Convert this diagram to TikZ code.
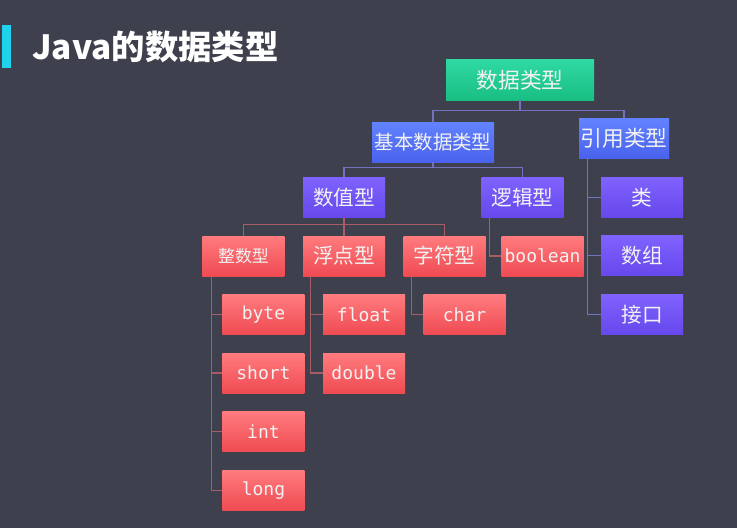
\documentclass[tikz,border=0pt]{standalone}
\usepackage{fontspec}
\setmainfont{Noto Sans CJK SC}
\setmonofont{DejaVu Sans Mono}
\usepackage{tikz}
\usetikzlibrary{positioning}

\definecolor{bgcol}{HTML}{3E414D}
\definecolor{barcol}{HTML}{1FD3EE}
\definecolor{greentop}{HTML}{2FD9A2}
\definecolor{greenbot}{HTML}{19BE83}
\definecolor{bluetop}{HTML}{6283FF}
\definecolor{bluebot}{HTML}{4A62EC}
\definecolor{purpletop}{HTML}{8062FF}
\definecolor{purplebot}{HTML}{6648EC}
\definecolor{redtop}{HTML}{FF7B7E}
\definecolor{redbot}{HTML}{EF4B52}
\definecolor{bluelinecol}{HTML}{7272C0}
\definecolor{redlinecol}{HTML}{A65D66}

\begin{document}
\begin{tikzpicture}[
  x=0.75pt, y=-0.75pt,
  node distance=13.5pt and 13.5pt,
  box/.style={rectangle, align=center, minimum width=61.5pt, minimum height=30pt, inner sep=0pt, text=white!95!black, font=\fontsize{15.5}{18}\selectfont},
  greenbox/.style={box, top color=greentop, bottom color=greenbot},
  bluebox/.style={box, top color=bluetop, bottom color=bluebot},
  purplebox/.style={box, top color=purpletop, bottom color=purplebot},
  redbox/.style={box, top color=redtop, bottom color=redbot},
  codebox/.style={redbox, font=\ttfamily\fontsize{13.5}{16}\selectfont},
  bluelink/.style={draw=bluelinecol, line width=1pt},
  redlink/.style={draw=redlinecol, line width=1pt}
]
\fill[bgcol] (0,0) rectangle (737,528);
\fill[barcol] (2,25) rectangle (11,68);
\node[anchor=west, inner sep=0pt, text=white, font=\bfseries\fontsize{25}{30}\selectfont] (title) at (32,47) {Java的数据类型};

% top levels
\node[greenbox, minimum width=111pt, font=\fontsize{16.3}{19}\selectfont] (root) at (520,80) {数据类型};
\node[bluebox, minimum width=91.5pt, font=\fontsize{14.6}{18}\selectfont] (basic) at (433,142) {基本数据类型};
\node[bluebox, minimum width=67.5pt, font=\fontsize{16.3}{19}\selectfont] (ref) at (624,138) {引用类型};
\node[purplebox] (num) at (344,197.5) {数值型};
\node[purplebox] (logic) at (522.5,197.5) {逻辑型};

% groups
\node[redbox, below=of num] (fu) {浮点型};
\node[redbox, left=of fu, font=\fontsize{12.7}{15}\selectfont] (zheng) {整数型};
\node[redbox, right=of fu] (zi) {字符型};
\node[codebox, below=of logic, xshift=15pt] (bool) {boolean};

% leaves
\node[codebox, below=of zheng, xshift=15pt] (byte) {byte};
\node[codebox, below=of byte] (short) {short};
\node[codebox, below=of short] (int) {int};
\node[codebox, below=of int] (long) {long};
\node[codebox, below=of fu, xshift=15pt] (float) {float};
\node[codebox, below=of float] (double) {double};
\node[codebox, below=of zi, xshift=15pt] (char) {char};
\node[purplebox, below=14pt of ref, xshift=13.5pt] (lei) {类};
\node[purplebox, below=of lei] (shuzu) {数组};
\node[purplebox, below=of shuzu] (jiekou) {接口};

% connectors
\draw[bluelink] (root.south) -- ++(0,-7.5pt) coordinate (rootjoin) -| (basic.north);
\draw[bluelink] (rootjoin) -| (ref.north);
\draw[bluelink] (basic.south) -- ++(0,-3.75pt) coordinate (basicjoin) -| (num.north);
\draw[bluelink] (basicjoin) -| (logic.north);
\foreach \c in {lei,shuzu,jiekou}
  \draw[bluelink] ([xshift=6.75pt]ref.south west) |- (\c.west);

\draw[redlink] (num.south) -- ++(0,-5.25pt) coordinate (numjoin) -| (zheng.north);
\draw[redlink] (numjoin) -| (fu.north);
\draw[redlink] (numjoin) -| (zi.north);
\draw[redlink] ([xshift=6pt]logic.south west) |- (bool.west);
\foreach \c in {byte,short,int,long}
  \draw[redlink] ([xshift=6.75pt]zheng.south west) |- (\c.west);
\foreach \c in {float,double}
  \draw[redlink] ([xshift=6pt]fu.south west) |- (\c.west);
\draw[redlink] ([xshift=6pt]zi.south west) |- (char.west);
\end{tikzpicture}
\end{document}
